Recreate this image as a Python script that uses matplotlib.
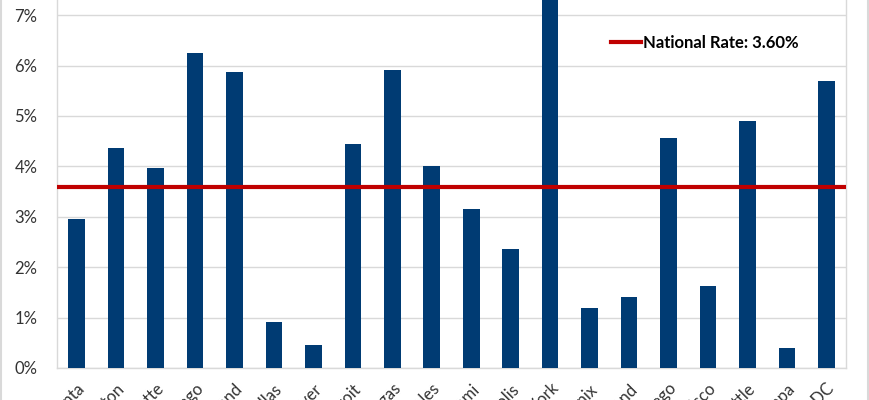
import matplotlib
matplotlib.use("Agg")
import matplotlib.pyplot as plt
from matplotlib.ticker import FuncFormatter

cities = ["Atlanta", "Boston", "Charlotte", "Chicago", "Cleveland", "Dallas", "Denver",
          "Detroit", "Las Vegas", "Los Angeles", "Miami", "Minneapolis", "New York",
          "Phoenix", "Portland", "San Diego", "San Francisco", "Seattle", "Tampa",
          "Washington DC"]
rates = [2.96, 4.37, 3.97, 6.25, 5.87, 0.91, 0.46, 4.44, 5.91, 4.01, 3.15, 2.36, 7.6,
         1.19, 1.41, 4.56, 1.63, 4.90, 0.40, 5.69]
national_rate = 3.60

plt.rcParams['font.family'] = ['Lato', 'DejaVu Sans']

fig = plt.figure(figsize=(8.7, 4.0), dpi=100)
ax = fig.add_axes([57/870, 32/400, (846-57)/870, 368/400])

x = list(range(len(cities)))
ax.bar(x, [r/100 for r in rates], width=0.42, color="#003B73", zorder=3)
ax.axhline(national_rate/100, color="#C00000", lw=3, zorder=4,
           label=f"National Rate: {national_rate:.2f}%")

ax.set_xlim(-0.5, len(cities)-0.5)
ax.set_ylim(0, 0.0730)
ax.set_yticks([i/100 for i in range(0, 8)])
ax.yaxis.set_major_formatter(FuncFormatter(lambda v, p: f"{v*100:.0f}%"))
ax.grid(axis='y', color="#D9D9D9", lw=1, zorder=0)
ax.set_xticks(x)
ax.set_xticklabels(cities, rotation=45, ha='right', rotation_mode='anchor')
ax.tick_params(axis='both', length=0, labelsize=12, colors="#333333")
ax.tick_params(axis='x', pad=9)
ax.tick_params(axis='y', pad=14)
for s in ['top']:
    ax.spines[s].set_visible(False)
for s in ['left', 'bottom', 'right']:
    ax.spines[s].set_color("#D9D9D9")
    ax.spines[s].set_linewidth(1)

leg = ax.legend(loc='center left', bbox_to_anchor=(596/870, 1-43/400),
                bbox_transform=fig.transFigure, frameon=False, handlelength=1.8,
                handletextpad=0.15, prop={'weight': 'bold', 'size': 12})

fig.patches.append(plt.Rectangle((1/870, -0.01), 867/870, 1.02, transform=fig.transFigure,
                                 fill=False, edgecolor="#D9D9D9", lw=1.5))
fig.savefig("out.png", dpi=100)
